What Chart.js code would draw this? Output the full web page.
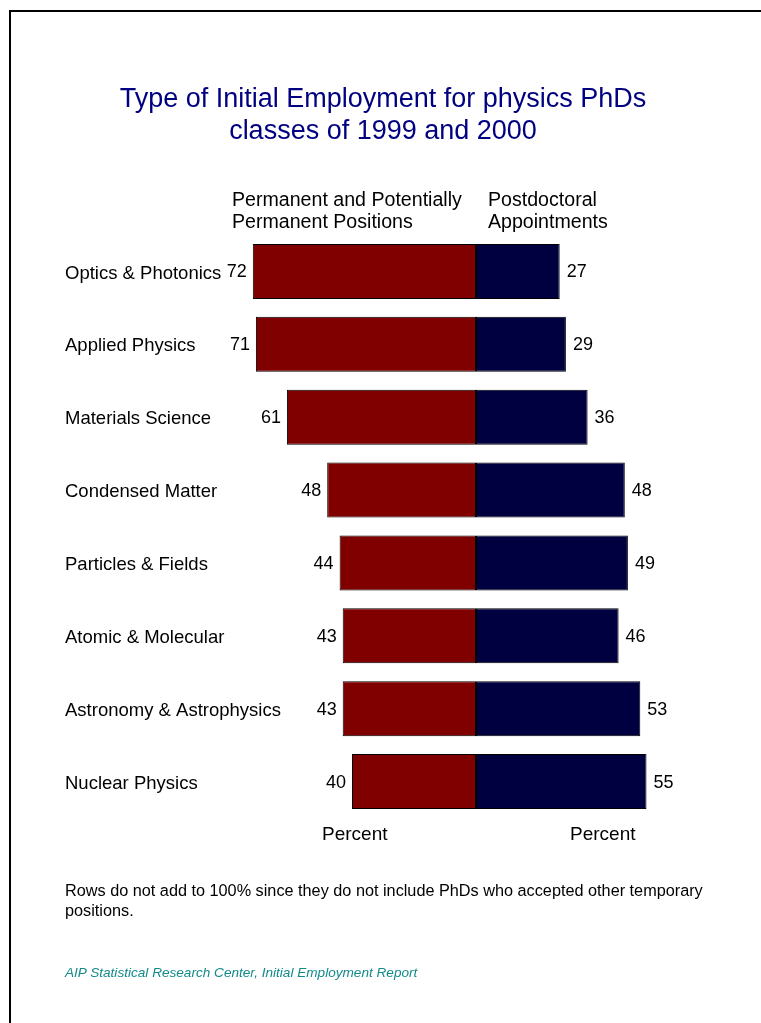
<!DOCTYPE html>
<html>
<head>
<meta charset="utf-8">
<script src="https://cdn.jsdelivr.net/npm/chart.js@4/dist/chart.umd.min.js"></script>
<style>
  html, body { margin: 0; padding: 0; background: #fff; width: 761px; height: 1023px; overflow: hidden; position: relative; font-family: "Liberation Sans", Arial, sans-serif; }
  #frame { position: absolute; left: 9px; top: 10px; width: 760px; height: 1100px; border-left: 2px solid #000; border-top: 2px solid #000; }
  canvas { position: absolute; left: 0; top: 0; }
  .t { position: absolute; white-space: nowrap; }
  #title { left: 0; width: 766px; top: 82px; text-align: center; color: #000080; font-size: 27px; line-height: 32px; }
  .hdr { top: 188px; font-size: 19.6px; line-height: 22px; color: #000; }
  .pct { top: 823px; font-size: 19px; line-height: 22px; color: #000; }
  #note { left: 65px; top: 880px; font-size: 16.25px; line-height: 20px; color: #000; }
  #src { left: 65px; top: 964px; font-size: 13.6px; line-height: 18px; color: #138a8a; font-style: italic; }
</style>
</head>
<body>
<div id="frame"></div>
<canvas id="c" width="761" height="1023"></canvas>
<div class="t" id="title">Type of Initial Employment for physics PhDs<br>classes of 1999 and 2000</div>
<div class="t hdr" style="left:232px">Permanent and Potentially<br>Permanent Positions</div>
<div class="t hdr" style="left:488px">Postdoctoral<br>Appointments</div>
<div class="t pct" style="left:322px">Percent</div>
<div class="t pct" style="left:570px">Percent</div>
<div class="t" id="note">Rows do not add to 100% since they do not include PhDs who accepted other temporary<br>positions.</div>
<div class="t" id="src">AIP Statistical Research Center, Initial Employment Report</div>
<script>
const categories = ["Optics & Photonics", "Applied Physics", "Materials Science", "Condensed Matter", "Particles & Fields", "Atomic & Molecular", "Astronomy & Astrophysics", "Nuclear Physics"];
const permanent = [72, 71, 61, 48, 44, 43, 43, 40];
const postdoc = [27, 29, 36, 48, 49, 46, 53, 55];

const FONT = '"Liberation Sans", Arial, sans-serif';

const valueLabels = {
  id: 'valueLabels',
  afterDatasetsDraw(chart) {
    const ctx = chart.ctx;
    ctx.save();
    ctx.font = '18px ' + FONT;
    ctx.fillStyle = '#000';
    ctx.textBaseline = 'middle';
    chart.data.datasets.forEach((ds, di) => {
      const meta = chart.getDatasetMeta(di);
      meta.data.forEach((el, i) => {
        const v = Math.abs(ds.data[i]);
        if (di === 0) {
          ctx.textAlign = 'right';
          ctx.fillText(String(v), el.x - 6, el.y + 1);
        } else {
          ctx.textAlign = 'left';
          ctx.fillText(String(v), el.x + 7, el.y + 1);
        }
      });
    });
    ctx.restore();
  }
};

new Chart(document.getElementById('c'), {
  type: 'bar',
  data: {
    labels: categories,
    datasets: [
      { label: 'Permanent and Potentially Permanent Positions', data: permanent.map(v => -v), backgroundColor: '#800000', borderColor: '#000', borderWidth: 1, borderSkipped: false, barPercentage: 0.755, categoryPercentage: 1 },
      { label: 'Postdoctoral Appointments', data: postdoc, backgroundColor: '#000040', borderColor: '#000', borderWidth: 1, borderSkipped: false, barPercentage: 0.755, categoryPercentage: 1 }
    ]
  },
  options: {
    indexAxis: 'y',
    responsive: false,
    animation: false,
    layout: { padding: { left: 228, right: 37, top: 235, bottom: 205 } },
    plugins: { legend: { display: false }, tooltip: { enabled: false }, title: { display: false } },
    scales: {
      x: { stacked: true, min: -80, max: 80, display: false },
      y: {
        stacked: true,
        grid: { display: false, drawTicks: false },
        border: { display: false },
        afterFit(scale) { scale.width = 0; },
        ticks: { autoSkip: false, mirror: true, padding: -163, labelOffset: 2, color: '#000', font: { family: FONT, size: 18.5 } }
      }
    }
  },
  plugins: [valueLabels]
});
</script>
</body>
</html>
